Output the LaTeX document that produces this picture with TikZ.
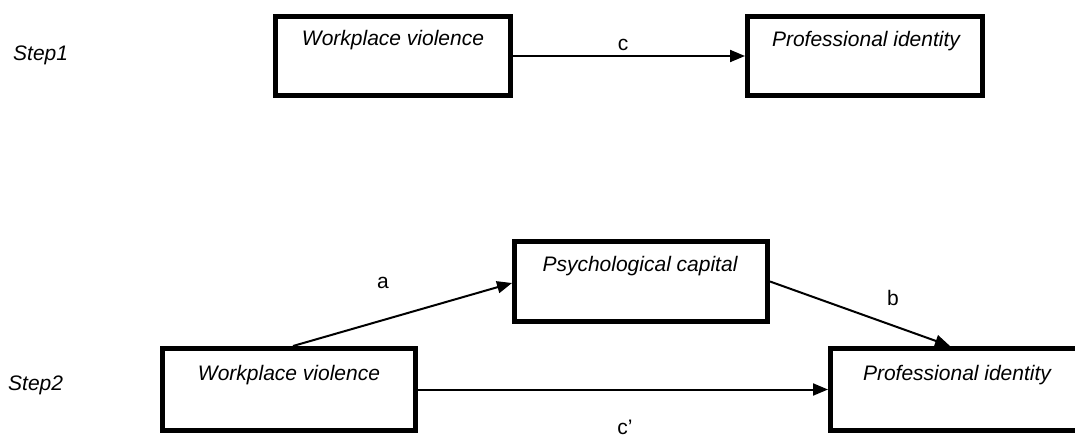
\documentclass[tikz,border=0pt]{standalone}
\usepackage{fontspec}
\setmainfont{Liberation Sans}
\usetikzlibrary{arrows.meta,calc}
\tikzset{
  box/.style={draw=black, line width=5pt, inner sep=0pt, fill=white},
  boxtext/.style={font=\fontsize{21}{25}\selectfont\itshape, anchor=base, inner sep=0pt},
  lbl/.style={font=\fontsize{21}{25}\selectfont, anchor=base, inner sep=0pt},
  steplbl/.style={font=\fontsize{21}{25}\selectfont\itshape, anchor=base west, inner sep=0pt},
  conn/.style={line width=2pt, -{Triangle[length=15pt,width=12pt]}}
}
\begin{document}
\begin{tikzpicture}[x=1pt,y=-1pt]
\useasboundingbox (0,0) rectangle (1075,437);
\clip (0,0) rectangle (1075,437);
% Step 1
\node[steplbl] (s1) at (13,60) {Step1};
\node[box, minimum width=235pt, minimum height=79pt] (wv1) at (393,56) {};
\node[boxtext] (wv1t) at (393,45) {Workplace violence};
\node[box, minimum width=235pt, minimum height=79pt] (pi1) at (865,56) {};
\node[boxtext] (pi1t) at (866,46) {Professional identity};
\draw[conn] (wv1) -- (pi1);
\node[lbl] (lc) at (623,50) {c};
% Step 2
\node[steplbl] (s2) at (8,390) {Step2};
\node[box, minimum width=253pt, minimum height=80pt] (pc) at (641,281.5) {};
\node[boxtext] (pct) at (640,271) {Psychological capital};
\node[box, minimum width=253pt, minimum height=82pt] (wv2) at (289,389.5) {};
\node[boxtext] (wv2t) at (289,380) {Workplace violence};
\node[box, minimum width=253pt, minimum height=82pt] (pi2) at (957,389.5) {};
\node[boxtext] (pi2t) at (957,380) {Professional identity};
\draw[conn] ([xshift=4pt]wv2.north) -- ([yshift=-1.5pt]pc.west);
\draw[conn] (pc.east) -- ([xshift=-7pt]pi2.north);
\draw[conn] (wv2) -- (pi2);
\node[lbl] (la) at (383,288) {a};
\node[lbl] (lb) at (893,305) {b};
\node[lbl] (lcp) at (625,434) {c'};
\end{tikzpicture}
\end{document}
